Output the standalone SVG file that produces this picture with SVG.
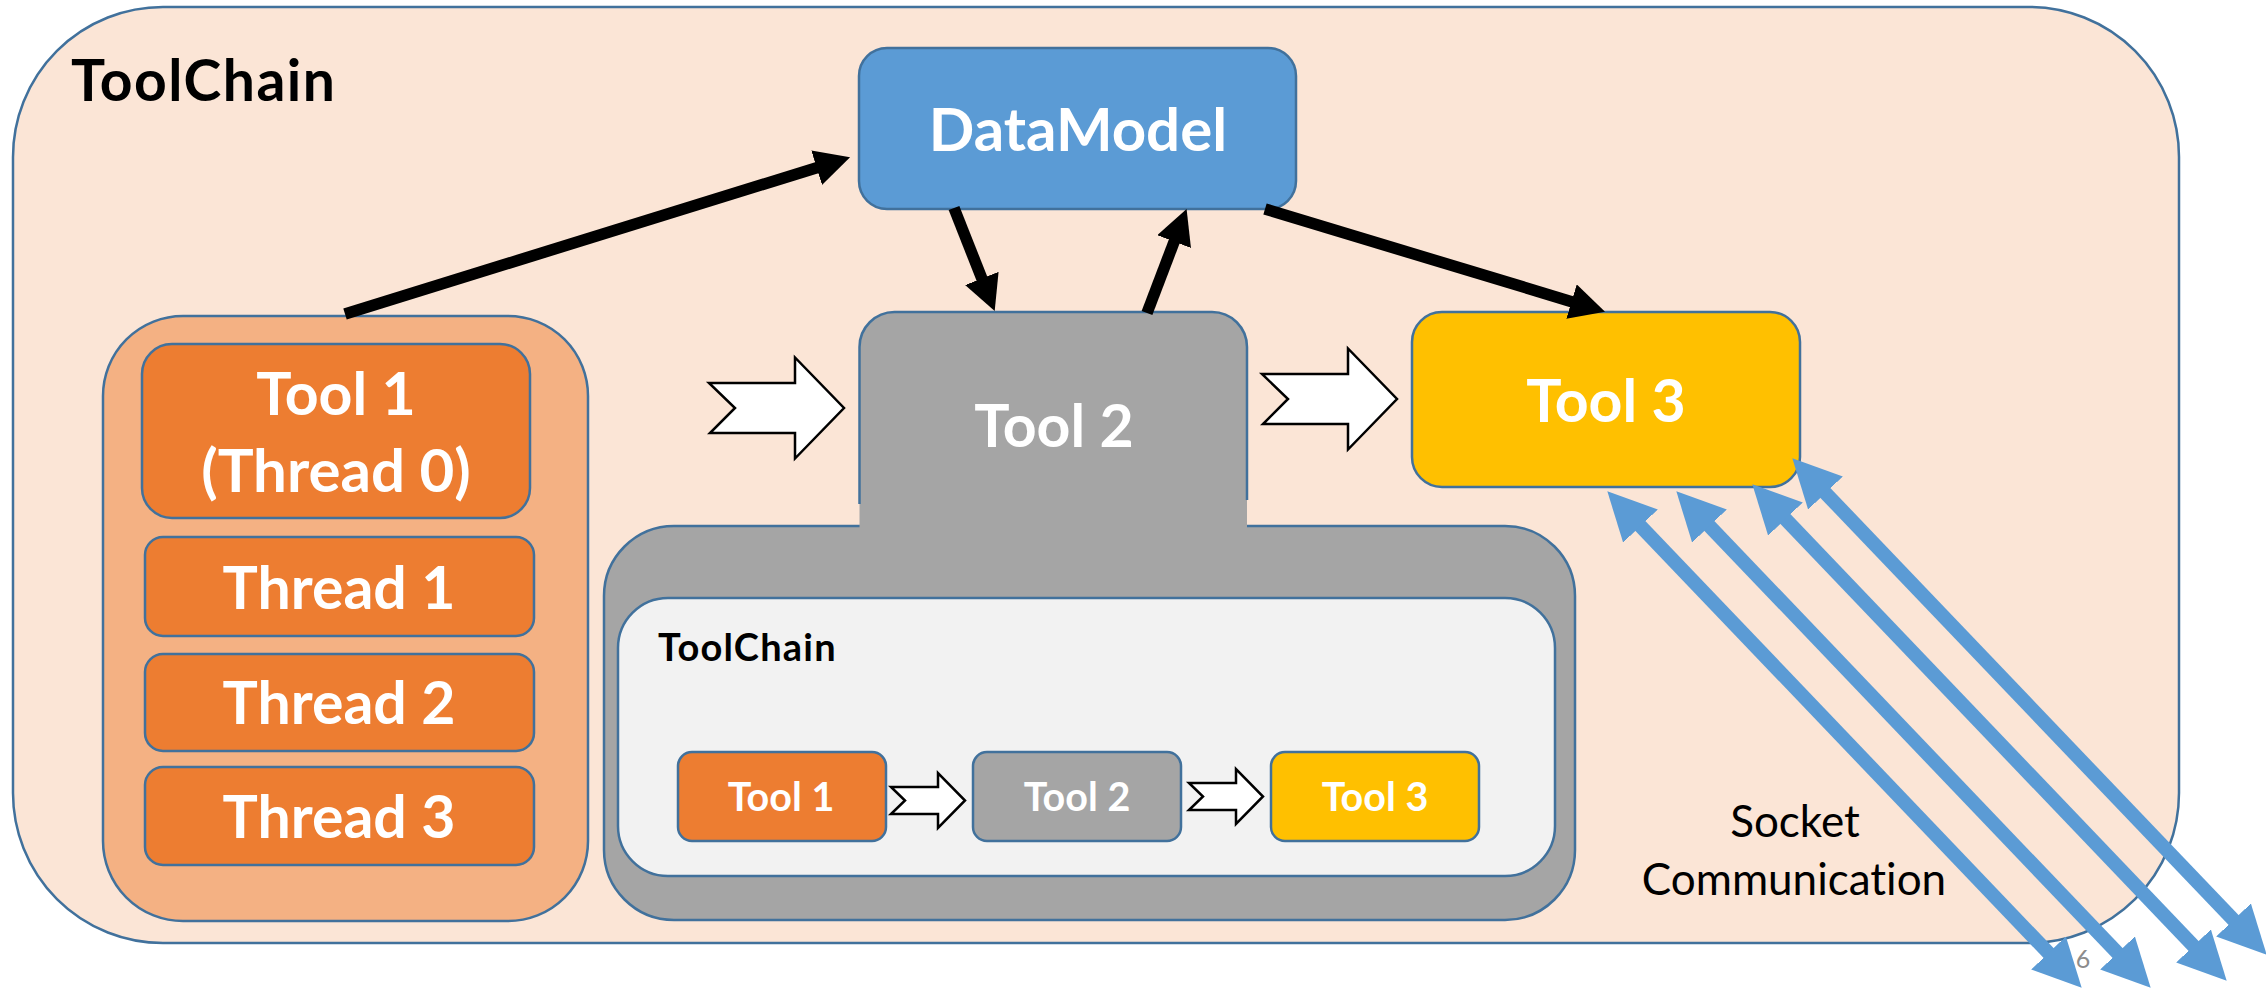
<svg xmlns="http://www.w3.org/2000/svg" width="2266" height="989" viewBox="0 0 2266 989">
  <defs>
    <style>
      .frame{stroke:#41719C;stroke-width:2.5}
      .lbl{font-family:Lato,"Liberation Sans",sans-serif;font-weight:700;fill:#fff;text-anchor:middle}
      .head{font-family:Lato,"Liberation Sans",sans-serif;font-weight:700;fill:#000}
      .note{font-family:Lato,"Liberation Sans",sans-serif;font-weight:400;fill:#000;text-anchor:middle;font-size:44px;font-variant-ligatures:none}
      .flow{fill:#fff;stroke:#000;stroke-width:2.5;stroke-linejoin:miter}
      .link{stroke:#000;stroke-width:11.5;fill:none;marker-end:url(#head)}
      .sock{stroke:#5B9BD5;stroke-width:14;fill:none;marker-start:url(#bluehead);marker-end:url(#bluehead)}
      .orange{fill:#ED7D31}
      .grey{fill:#A5A5A5}
      .gold{fill:#FFC000}
    </style>
    <marker id="head" markerUnits="userSpaceOnUse" viewBox="0 0 35 36" refX="1" refY="18" markerWidth="35" markerHeight="36" orient="auto">
      <path d="M0,0 L35,18 L0,36 Z" fill="#000"/>
    </marker>
    <marker id="bluehead" markerUnits="userSpaceOnUse" viewBox="0 0 48 48" refX="1" refY="24" markerWidth="48" markerHeight="48" orient="auto-start-reverse">
      <path d="M0,0 L48,24 L0,48 Z" fill="#5B9BD5"/>
    </marker>
    <!-- notched block arrows, origin at the top-left of the shaft -->
    <path id="bigflow" d="M0,0 H86 V-25.5 L135,25 L86,75.5 V50 H1 L26,25 Z"/>
    <path id="smallflow" d="M0,0 H47 V-14 L74,13.5 L47,41 V27 H0 L14,13.5 Z"/>
  </defs>

  <!-- outer tool chain frame -->
  <g id="toolchain">
    <rect x="13" y="7" width="2166" height="936" rx="150" ry="150" fill="#FBE5D6" class="frame"/>
    <text class="head" x="71" y="101" font-size="57" letter-spacing="1.5">ToolChain</text>
  </g>

  <!-- Tool 1 with its threads -->
  <g id="tool1">
    <rect x="103" y="316" width="485" height="605" rx="80" ry="80" fill="#F4B183" class="frame"/>
    <rect x="142" y="344" width="388" height="174" rx="30" ry="30" class="orange frame"/>
    <text class="lbl" x="336" y="415" font-size="59">Tool 1</text>
    <text class="lbl" x="336" y="492" font-size="60">(Thread 0)</text>
  </g>
  <g id="thread1">
    <rect x="145" y="537" width="389" height="99" rx="18" ry="18" class="orange frame"/>
    <text class="lbl" x="339" y="609" font-size="59">Thread 1</text>
  </g>
  <g id="thread2">
    <rect x="145" y="654" width="389" height="97" rx="18" ry="18" class="orange frame"/>
    <text class="lbl" x="339" y="724" font-size="59">Thread 2</text>
  </g>
  <g id="thread3">
    <rect x="145" y="767" width="389" height="98" rx="18" ry="18" class="orange frame"/>
    <text class="lbl" x="339" y="838" font-size="59">Thread 3</text>
  </g>

  <!-- nested tool chain run by Tool 2 -->
  <g id="subchain">
    <rect x="604" y="526" width="971" height="394" rx="70" ry="70" class="grey frame"/>
    <rect x="618" y="598" width="937" height="278" rx="50" ry="50" fill="#F2F2F2" class="frame"/>
    <text class="head" x="658" y="661" font-size="38" letter-spacing="1.2">ToolChain</text>
  </g>
  <g id="sub-tool1">
    <rect x="678" y="752" width="208" height="89" rx="14" ry="14" class="orange frame"/>
    <text class="lbl" x="781" y="811" font-size="39.5">Tool 1</text>
  </g>
  <g id="sub-tool2">
    <rect x="973" y="752" width="208" height="89" rx="14" ry="14" class="grey frame"/>
    <text class="lbl" x="1077" y="811" font-size="39.5">Tool 2</text>
  </g>
  <g id="sub-tool3">
    <rect x="1271" y="752" width="208" height="89" rx="14" ry="14" class="gold frame"/>
    <text class="lbl" x="1375" y="811" font-size="39.5">Tool 3</text>
  </g>

  <!-- Tool 2, joined onto the nested chain below it -->
  <g id="tool2">
    <path d="M859.5,532 V347 A35,35 0 0 1 894.5,312 H1212 A35,35 0 0 1 1247,347 V532 Z" class="grey"/>
    <path d="M859.5,504 V347 A35,35 0 0 1 894.5,312 H1212 A35,35 0 0 1 1247,347 V500" fill="none" class="frame"/>
    <text class="lbl" x="1054" y="447" font-size="59">Tool 2</text>
  </g>

  <g id="datamodel">
    <rect x="859" y="48" width="437" height="161" rx="28" ry="28" fill="#5B9BD5" class="frame"/>
    <text class="lbl" x="1078" y="151" font-size="60">DataModel</text>
  </g>

  <g id="tool3">
    <rect x="1412" y="312" width="388" height="175" rx="30" ry="30" class="gold frame"/>
    <text class="lbl" x="1606" y="422" font-size="59">Tool 3</text>
  </g>

  <g id="socket-label">
    <text class="note" x="1795" y="837">Socket</text>
    <text class="note" x="1794" y="895">Communication</text>
  </g>
  <text x="2083" y="968" font-family="Lato,'Liberation Sans',sans-serif" font-size="25" fill="#8C8C8C" text-anchor="middle">6</text>

  <!-- connectors -->
  <g id="connectors">
    <use href="#bigflow" class="flow" x="709" y="383"/>
    <use href="#bigflow" class="flow" x="1262" y="374"/>
    <use href="#smallflow" class="flow" x="891" y="787"/>
    <use href="#smallflow" class="flow" x="1189" y="783"/>

    <line class="link" x1="345" y1="314" x2="817.6" y2="167.4"/>
    <line class="link" x1="954" y1="208" x2="982.2" y2="279.4"/>
    <line class="link" x1="1147" y1="313" x2="1174.5" y2="240.7"/>
    <line class="link" x1="1265" y1="209" x2="1572.5" y2="301.9"/>

    <line class="sock" x1="1639.8" y1="525.3" x2="2049.2" y2="953.7"/>
    <line class="sock" x1="1708.8" y1="525.3" x2="2118.2" y2="953.7"/>
    <line class="sock" x1="1784.8" y1="518.3" x2="2194.2" y2="946.7"/>
    <line class="sock" x1="1824.8" y1="492.3" x2="2234.2" y2="920.7"/>
  </g>
</svg>
